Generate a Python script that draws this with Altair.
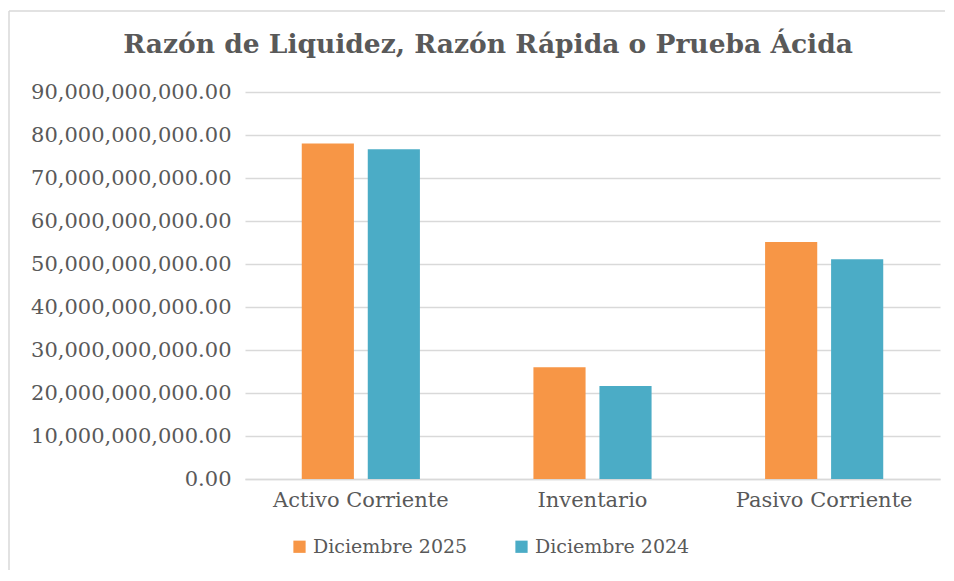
import altair as alt
import pandas as pd

title_text = "Razón de Liquidez, Razón Rápida o Prueba Ácida"
categories = ["Activo Corriente", "Inventario", "Pasivo Corriente"]
series = ["Diciembre 2025", "Diciembre 2024"]
v2025 = [78.0e9, 26.0e9, 55.1e9]
v2024 = [76.7e9, 21.6e9, 51.1e9]
colors = ["#F79646", "#4BACC6"]
y_ticks = [i * 10e9 for i in range(10)]

rows = []
for c, a, b in zip(categories, v2025, v2024):
    rows.append({"cat": c, "serie": series[0], "valor": a})
    rows.append({"cat": c, "serie": series[1], "valor": b})
df = pd.DataFrame(rows)

FONT = "DejaVu Serif"
GRAY = "#595959"
BORDER = "#d9d9d9"

bars = alt.Chart(df).mark_bar().encode(
    x=alt.X("cat:N", sort=categories, title=None,
            scale=alt.Scale(paddingInner=0.49, paddingOuter=0.245),
            axis=alt.Axis(labelAngle=0, ticks=False, domainColor=BORDER,
                          domainWidth=1.5, labelPadding=10)),
    xOffset=alt.XOffset("serie:N", sort=series,
                        scale=alt.Scale(paddingInner=0.21, paddingOuter=0)),
    y=alt.Y("valor:Q", title=None,
            scale=alt.Scale(domain=[0, 90e9], nice=False),
            axis=alt.Axis(values=y_ticks, format=",.2f", ticks=False, domain=False,
                          gridColor=BORDER, gridWidth=1.5, labelPadding=14)),
    color=alt.Color("serie:N", sort=series,
                    scale=alt.Scale(domain=series, range=colors),
                    legend=alt.Legend(title=None, orient="none", direction="horizontal",
                                      legendX=45, legendY=445,
                                      symbolType="square", symbolSize=150,
                                      symbolStrokeWidth=0, columnPadding=44,
                                      labelOffset=4)),
)

one = pd.DataFrame({"t": [title_text]})

# decorative chart border: only the left and top edges are visible in the reference
left_edge = alt.Chart(one).mark_rule(color=BORDER, strokeWidth=1.5, clip=False).encode(
    x=alt.value(-236), y=alt.value(-81), y2=alt.value(478),
)
top_edge = alt.Chart(one).mark_rule(color=BORDER, strokeWidth=1.5, clip=False).encode(
    x=alt.value(-236), x2=alt.value(700), y=alt.value(-81),
)
# chart title, drawn inside the bordered frame as in the reference
title = alt.Chart(one).mark_text(
    font=FONT, fontSize=26.5, fontWeight="bold", color=GRAY,
    align="center", baseline="alphabetic", clip=False,
).encode(
    text="t:N", x=alt.value(243), y=alt.value(-39),
)

chart = alt.layer(left_edge, top_edge, title, bars).properties(
    width=695,
    height=387,
    padding={"left": 0, "top": 2, "right": 0, "bottom": 0},
).configure_view(stroke=None).configure_axis(
    labelFont=FONT, labelFontSize=21, labelColor=GRAY, labelLimit=0,
).configure_legend(
    labelFont=FONT, labelFontSize=19, labelColor=GRAY, labelLimit=0,
)

chart.save("out.html", embed_options={"renderer": "svg", "actions": False})
